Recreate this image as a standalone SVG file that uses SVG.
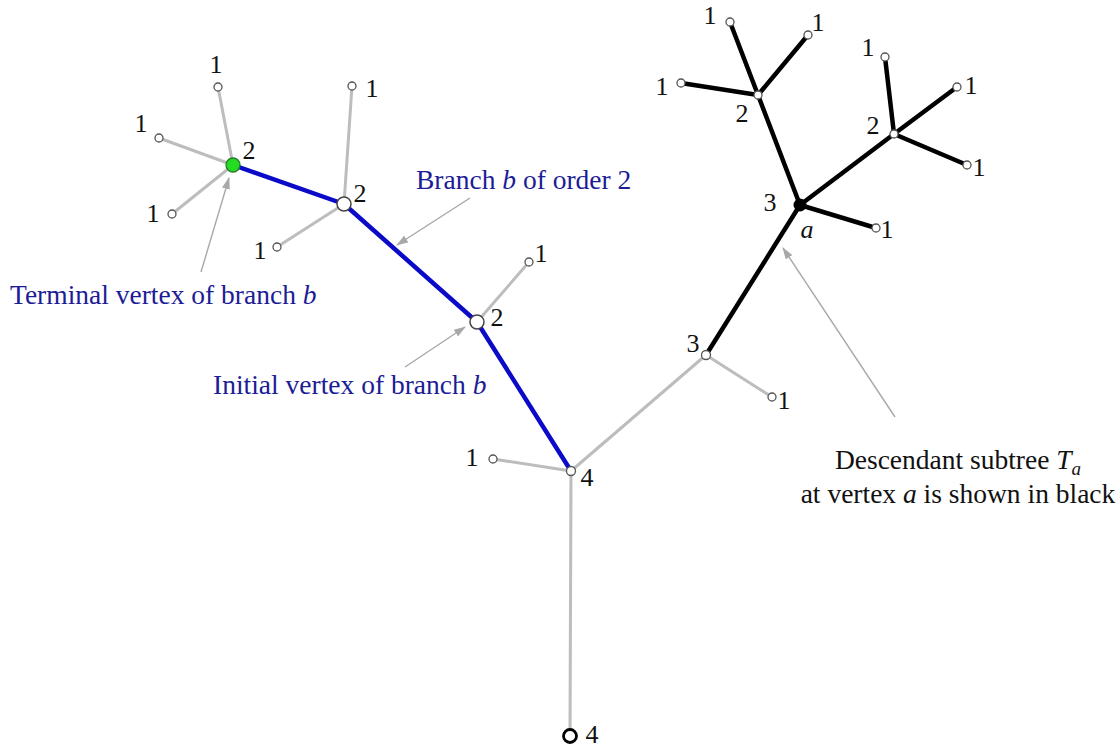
<svg xmlns="http://www.w3.org/2000/svg" width="1120" height="748" viewBox="0 0 1120 748">
<style>
text{font-family:"Liberation Serif","Times New Roman",serif;font-size:26px;fill:#111}
.ann{font-size:27.5px;fill:#1c1c96}
.dsc{font-size:27.5px;fill:#111;text-anchor:middle}
.num{text-anchor:middle}
.g{stroke:#bdbdbd;stroke-width:3;fill:none;stroke-linecap:round}
.b{stroke:#0a0ac8;stroke-width:4.5;fill:none;stroke-linecap:round}
.k{stroke:#000;stroke-width:4.5;fill:none;stroke-linecap:round}
.ar{stroke:#a8a8a8;stroke-width:1.4;fill:none;marker-end:url(#ah)}
.leaf{fill:#fff;stroke:#555;stroke-width:1.3}
.big{fill:#fff;stroke:#444;stroke-width:1.5}
</style>
<defs>
<marker id="ah" viewBox="0 0 12 8" refX="11" refY="4" markerWidth="12" markerHeight="8" markerUnits="userSpaceOnUse" orient="auto">
<path d="M0,0 L12,4 L0,8 Z" fill="#a8a8a8"/>
</marker>
</defs>
<rect width="1120" height="748" fill="#fff"/>
<g id="connectors">
<line class="g" x1="570" y1="736" x2="571" y2="471"/>
<line class="g" x1="571" y1="471" x2="493" y2="459"/>
<line class="g" x1="571" y1="471" x2="706" y2="355"/>
<line class="g" x1="706" y1="355" x2="772" y2="397"/>
<line class="g" x1="477" y1="322" x2="529" y2="262"/>
<line class="g" x1="344" y1="204" x2="352" y2="86"/>
<line class="g" x1="344" y1="204" x2="277" y2="247"/>
<line class="g" x1="233" y1="165" x2="218" y2="87"/>
<line class="g" x1="233" y1="165" x2="159" y2="138"/>
<line class="g" x1="233" y1="165" x2="172" y2="214"/>
<line class="b" x1="571" y1="471" x2="477" y2="322"/>
<line class="b" x1="477" y1="322" x2="344" y2="204"/>
<line class="b" x1="344" y1="204" x2="233" y2="165"/>
<line class="k" x1="706" y1="355" x2="800" y2="205"/>
<line class="k" x1="800" y1="205" x2="876" y2="228"/>
<line class="k" x1="800" y1="205" x2="758" y2="95"/>
<line class="k" x1="800" y1="205" x2="894" y2="134"/>
<line class="k" x1="758" y1="95" x2="730" y2="22"/>
<line class="k" x1="758" y1="95" x2="808" y2="35"/>
<line class="k" x1="758" y1="95" x2="681" y2="83"/>
<line class="k" x1="894" y1="134" x2="885" y2="57"/>
<line class="k" x1="894" y1="134" x2="957" y2="87"/>
<line class="k" x1="894" y1="134" x2="967" y2="165"/>
<line class="ar" x1="201" y1="272" x2="229" y2="178"/>
<line class="ar" x1="470" y1="198" x2="397" y2="245"/>
<line class="ar" x1="405" y1="367" x2="465" y2="327"/>
<line class="ar" x1="895" y1="417" x2="783" y2="248"/>
</g>
<g id="root"><circle cx="570" cy="736" r="6.5" fill="#fff" stroke="#000" stroke-width="2.8"/><text class="num" x="592" y="743">4</text></g>
<g id="v4"><circle class="leaf" cx="571" cy="471" r="4.5"/><text class="num" x="587" y="486">4</text></g>
<g id="leaf-v4"><circle class="leaf" cx="493" cy="459" r="4"/><text class="num" x="472" y="466">1</text></g>
<g id="initial"><circle class="big" cx="477" cy="322" r="7"/><text class="num" x="497" y="326">2</text></g>
<g id="leaf-initial"><circle class="leaf" cx="529" cy="262" r="4"/><text class="num" x="541" y="262">1</text></g>
<g id="mid"><circle class="big" cx="344" cy="204" r="7"/><text class="num" x="360" y="202">2</text></g>
<g id="leaf-mid-top"><circle class="leaf" cx="352" cy="86" r="4"/><text class="num" x="372" y="97">1</text></g>
<g id="leaf-mid-low"><circle class="leaf" cx="277" cy="247" r="4"/><text class="num" x="260" y="259">1</text></g>
<g id="terminal"><circle cx="233" cy="165" r="7" fill="#22dd22" stroke="#2a7a2a" stroke-width="1.3"/><text class="num" x="249" y="159">2</text></g>
<g id="leaf-t1"><circle class="leaf" cx="218" cy="87" r="4"/><text class="num" x="216" y="73">1</text></g>
<g id="leaf-t2"><circle class="leaf" cx="159" cy="138" r="4"/><text class="num" x="141" y="132">1</text></g>
<g id="leaf-t3"><circle class="leaf" cx="172" cy="214" r="4"/><text class="num" x="153" y="222">1</text></g>
<g id="v3"><circle class="leaf" cx="706" cy="355" r="4.5"/><text class="num" x="693" y="352">3</text></g>
<g id="leaf-v3"><circle class="leaf" cx="772" cy="397" r="4"/><text class="num" x="784" y="409">1</text></g>
<g id="a"><circle cx="800" cy="205" r="6.5" fill="#000"/><text class="num" x="770" y="211">3</text><text class="num" x="807" y="238" font-style="italic">a</text></g>
<g id="leaf-a"><circle class="leaf" cx="876" cy="228" r="4"/><text class="num" x="887" y="238">1</text></g>
<g id="p"><circle class="leaf" cx="758" cy="95" r="4"/><text class="num" x="742" y="122">2</text></g>
<g id="leaf-p1"><circle class="leaf" cx="730" cy="22" r="4"/><text class="num" x="710" y="24">1</text></g>
<g id="leaf-p2"><circle class="leaf" cx="808" cy="35" r="4"/><text class="num" x="818" y="31">1</text></g>
<g id="leaf-p3"><circle class="leaf" cx="681" cy="83" r="4"/><text class="num" x="662" y="95">1</text></g>
<g id="q"><circle class="leaf" cx="894" cy="134" r="4"/><text class="num" x="873" y="134">2</text></g>
<g id="leaf-q1"><circle class="leaf" cx="885" cy="57" r="4"/><text class="num" x="868" y="56">1</text></g>
<g id="leaf-q2"><circle class="leaf" cx="957" cy="87" r="4"/><text class="num" x="971" y="94">1</text></g>
<g id="leaf-q3"><circle class="leaf" cx="967" cy="165" r="4"/><text class="num" x="979" y="176">1</text></g>
<g id="labels">
<text class="ann" x="10" y="304">Terminal vertex of branch <tspan font-style="italic">b</tspan></text>
<text class="ann" x="416" y="189">Branch <tspan font-style="italic">b</tspan> of order 2</text>
<text class="ann" x="213" y="394">Initial vertex of branch <tspan font-style="italic">b</tspan></text>
<text class="dsc" x="958" y="469">Descendant subtree <tspan font-style="italic">T</tspan><tspan font-style="italic" font-size="19" dy="6">a</tspan></text>
<text class="dsc" x="958" y="503">at vertex <tspan font-style="italic">a</tspan> is shown in black</text>
</g>
</svg>
